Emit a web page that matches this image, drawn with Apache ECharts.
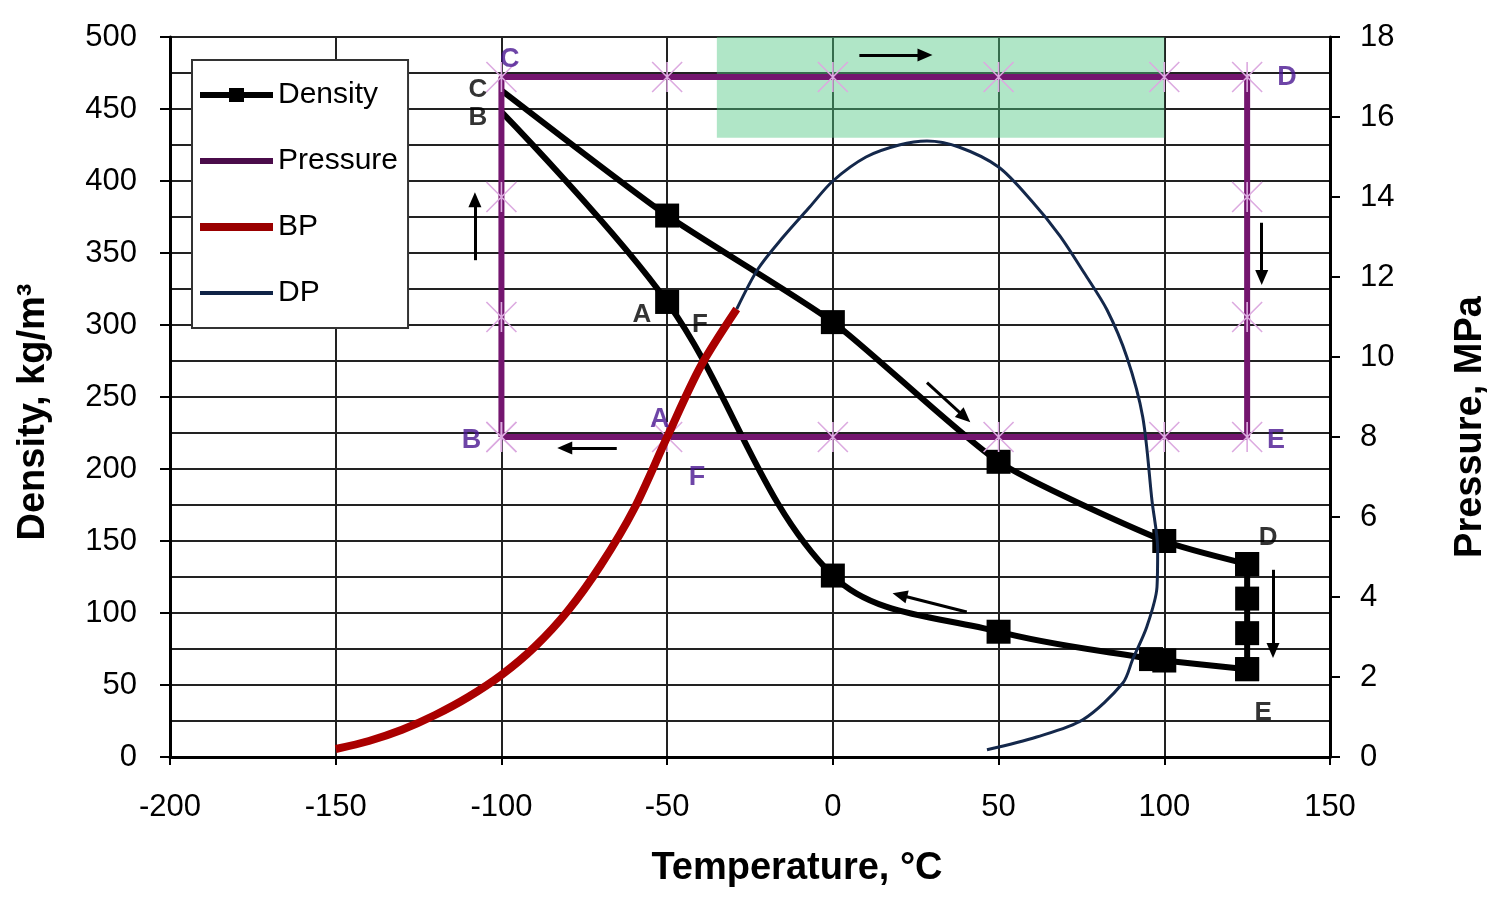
<!DOCTYPE html>
<html>
<head>
<meta charset="utf-8">
<script src="https://cdn.jsdelivr.net/npm/echarts@6/dist/echarts.min.js"></script>
<style>
html,body{margin:0;padding:0;background:#fff;}
#chart{width:1502px;height:902px;}
</style>
</head>
<body>
<div id="chart"></div>
<script>
// ---- Data ----
const xTicks = [-200, -150, -100, -50, 0, 50, 100, 150];
// Density loop (kg/m3), temperature in °C
const densUpperT = [-100, -50, 0, 50, 100, 125];
const densUpperD = [463, 376, 302, 205, 150, 134];
const densDropT = [125, 125, 125, 125];
const densDropD = [134, 110, 86, 61];
const densLowerT = [125, 100, 96, 50, 0, -50, -100];
const densLowerD = [61, 67, 68, 87, 126, 316, 448];
// Pressure loop (MPa)
const presT = [-100, -100, -100, -100, -50, 0, 50, 100, 125, 125, 125, 125, 100, 50, 0, -50, -100];
const presP = [8, 11, 14, 17, 17, 17, 17, 17, 17, 14, 11, 8, 8, 8, 8, 8, 8];
// Bubble point curve (MPa)
const bpT = [-150, -140, -130, -120, -110, -100, -90, -80, -70, -60, -50, -40, -29];
const bpP = [0.2, 0.4, 0.68, 1.05, 1.5, 2.05, 2.75, 3.65, 4.8, 6.2, 8.0, 9.75, 11.2];
// Dew point curve (MPa)
const dpT = [-29, -22.6, -15, -7, 0, 10, 20, 28.4, 38, 50, 60, 68.5, 76, 82.7, 88.7, 93.5, 96.3, 98, 97.8, 94.7, 90.5, 87.5, 75.4, 61.5, 46.5];
const dpP = [11.2, 12.2, 13.0, 13.75, 14.4, 15.0, 15.3, 15.4, 15.25, 14.75, 13.9, 13.03, 12.08, 11.18, 10.0, 8.5, 6.4, 5.2, 4.25, 3.25, 2.45, 1.85, 0.93, 0.5, 0.18];
// Annotations (temperature, density units)
const purpleLabels = [['C', -97.5, 484], ['D', 137, 471.5], ['B', -109, 220], ['A', -52.2, 234], ['F', -41, 194], ['E', 133.7, 220]];
const blackLabels = [['C', -107.1, 463], ['B', -107.1, 444], ['A', -57.6, 307], ['F', -40.1, 300], ['D', 131.3, 152], ['E', 129.8, 31]];
const arrows = [
  [[-108, 345], [-108, 387]],
  [[8, 487.5], [27.8, 487.5]],
  [[129.4, 371], [129.4, 333]],
  [[28.4, 260], [39.8, 236]],
  [[-65.2, 214.6], [-80.9, 214.6]],
  [[40.4, 100.7], [20.2, 112.5]],
  [[132.8, 130], [132.8, 74]]
];
const greenBox = [[-35, 430], [100, 500]];

// ---- Chart ----
const FONT = 'Liberation Sans, Arial, sans-serif';
const zip = (a, b) => a.map((v, i) => [v, b[i]]);
const densItems = (T, D) => T.map((t, i) => ({ value: [t, D[i]], symbol: t === -100 ? 'none' : 'rect' }));
const starPath = 'path://M0 0L20 20M20 0L0 20M10 0L10 20';
// legend icons: invisible bounding box 73x20 then a bar
const iconDensity = 'path://M0 0M73 20M0 7H73V13H0ZM29 3H44V17H29Z';
const iconPressure = 'path://M0 0M73 20M0 7H73V13H0Z';
const iconBP = 'path://M0 0M73 20M0 6H73V14H0Z';
const iconDP = 'path://M0 0M73 20M0 8H73V12H0Z';

const chart = echarts.init(document.getElementById('chart'), null, { renderer: 'canvas' });

const densStyle = {
  type: 'line', yAxisIndex: 0, symbol: 'rect', symbolSize: 24,
  itemStyle: { color: '#000' }, lineStyle: { color: '#000', width: 6 }, z: 2, animation: false
};

chart.setOption({
  animation: false,
  grid: { left: 170, right: 172, top: 37, bottom: 145, containLabel: false },
  legend: {
    data: [
      { name: 'Density', icon: iconDensity, itemStyle: { color: '#000', borderWidth: 0 } },
      { name: 'Pressure', icon: iconPressure, itemStyle: { color: '#4a0c4a', borderWidth: 0 } },
      { name: 'BP', icon: iconBP, itemStyle: { color: '#9a0000', borderWidth: 0 } },
      { name: 'DP', icon: iconDP, itemStyle: { color: '#0f2346', borderWidth: 0 } }
    ],
    orient: 'vertical', left: 192, top: 60,
    backgroundColor: '#fff', borderColor: '#333', borderWidth: 2,
    padding: [20, 10, 20, 8], itemGap: 36, itemWidth: 73, itemHeight: 20,
    textStyle: { fontSize: 30, lineHeight: 30, color: '#000', fontFamily: FONT },
    z: 20
  },
  xAxis: {
    type: 'value', min: -200, max: 150, interval: 50,
    axisLine: { show: true, onZero: false, lineStyle: { color: '#000', width: 3 } },
    axisTick: { show: true, length: 8, lineStyle: { color: '#000', width: 2 } },
    axisLabel: { fontSize: 31, color: '#000', margin: 35, fontFamily: FONT },
    splitLine: { show: true, lineStyle: { color: '#222', width: 2 } },
    name: 'Temperature, °C', nameLocation: 'middle', nameGap: 93,
    nameTextStyle: { fontSize: 38, fontWeight: 'bold', color: '#000', fontFamily: FONT, padding: [0, 0, 0, 94] }
  },
  yAxis: [{
    type: 'value', min: 0, max: 500, interval: 50, position: 'left',
    axisLine: { show: true, onZero: false, lineStyle: { color: '#000', width: 3 } },
    axisTick: { show: true, length: 10, lineStyle: { color: '#000', width: 2 } },
    minorTick: { show: false, splitNumber: 2 },
    axisLabel: { fontSize: 31, color: '#000', margin: 33, fontFamily: FONT },
    splitLine: { show: true, lineStyle: { color: '#222', width: 2 } },
    minorSplitLine: { show: true, lineStyle: { color: '#222', width: 2 } },
    name: 'Density, kg/m³', nameLocation: 'middle', nameRotate: 90, nameGap: 117,
    nameTextStyle: { fontSize: 38, fontWeight: 'bold', color: '#000', fontFamily: FONT, padding: [0, 30, 0, 0] }
  }, {
    type: 'value', min: 0, max: 18, interval: 2, position: 'right',
    axisLine: { show: true, onZero: false, lineStyle: { color: '#000', width: 3 } },
    axisTick: { show: true, length: 10, lineStyle: { color: '#000', width: 2 } },
    axisLabel: { fontSize: 31, color: '#000', margin: 30, fontFamily: FONT },
    splitLine: { show: false },
    name: 'Pressure, MPa', nameLocation: 'middle', nameRotate: 90, nameGap: 122,
    nameTextStyle: { fontSize: 38, fontWeight: 'bold', color: '#000', fontFamily: FONT, padding: [0, 60, 0, 0] }
  }],
  series: [
    Object.assign({ name: 'Density', data: densItems(densUpperT, densUpperD), smooth: 0.2 }, densStyle),
    Object.assign({ name: 'Density', data: densItems(densDropT, densDropD), smooth: false }, densStyle),
    Object.assign({ name: 'Density', data: densItems(densLowerT, densLowerD), smooth: 0.35 }, densStyle),
    {
      name: 'Pressure', type: 'line', yAxisIndex: 1, data: zip(presT, presP),
      symbol: starPath, symbolSize: 30,
      itemStyle: { color: '#dcaae0', borderColor: '#dcaae0', borderWidth: 1.6 },
      lineStyle: { color: '#74166f', width: 6 }, z: 3
    },
    {
      name: 'BP', type: 'line', yAxisIndex: 1, data: zip(bpT, bpP), smooth: 0.3,
      showSymbol: false, symbol: 'none',
      itemStyle: { color: '#aa0000' }, lineStyle: { color: '#aa0000', width: 8 }, z: 4
    },
    {
      name: 'DP', type: 'line', yAxisIndex: 1, data: zip(dpT, dpP), smooth: 0.3,
      showSymbol: false, symbol: 'none',
      itemStyle: { color: '#14284b' }, lineStyle: { color: '#14284b', width: 3 }, z: 5
    },
    {
      name: 'purpleLabels', type: 'scatter', yAxisIndex: 0,
      data: purpleLabels.map(d => [d[1], d[2], d[0]]),
      symbolSize: 1, itemStyle: { color: 'rgba(0,0,0,0)' }, silent: true,
      label: { show: true, position: 'inside', formatter: p => p.data[2], fontSize: 27, fontWeight: 'bold', color: '#4a1791', fontFamily: FONT },
      z: 6
    },
    {
      name: 'blackLabels', type: 'scatter', yAxisIndex: 0,
      data: blackLabels.map(d => [d[1], d[2], d[0]]),
      symbolSize: 1, itemStyle: { color: 'rgba(0,0,0,0)' }, silent: true,
      label: { show: true, position: 'inside', formatter: p => p.data[2], fontSize: 26, fontWeight: 'bold', color: '#000', fontFamily: FONT },
      z: 6
    },
    {
      name: 'arrows', type: 'line', yAxisIndex: 0, data: [], z: 6,
      markLine: {
        silent: true, symbol: ['none', 'triangle'], symbolSize: [13, 15],
        label: { show: false },
        lineStyle: { color: '#000', width: 3, type: 'solid' },
        data: arrows.map(a => [{ coord: a[0] }, { coord: a[1] }])
      }
    },
    {
      name: 'green', type: 'line', yAxisIndex: 0, data: [], z: 7,
      markArea: {
        silent: true,
        itemStyle: { color: 'rgba(80,200,130,0.45)' },
        data: [[{ xAxis: greenBox[0][0], yAxis: greenBox[0][1] }, { xAxis: greenBox[1][0], yAxis: greenBox[1][1] }]]
      }
    }
  ]
});
</script>
</body>
</html>
